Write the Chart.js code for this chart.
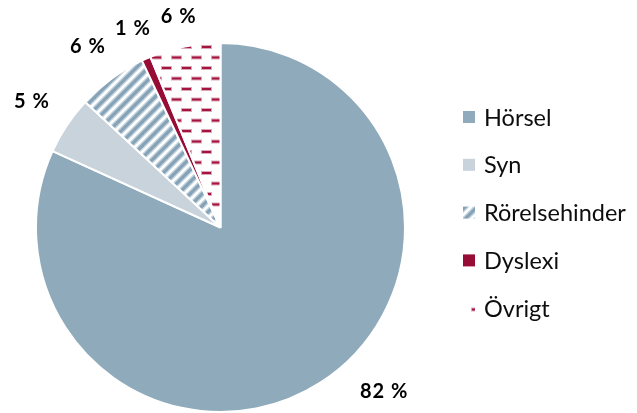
<!DOCTYPE html>
<html>
<head>
<meta charset="utf-8">
<script src="https://cdn.jsdelivr.net/npm/chart.js@4.4.1/dist/chart.umd.min.js"></script>
<style>
html,body{margin:0;padding:0;background:#fff;}
#wrap{position:relative;width:637px;height:413px;}
</style>
</head>
<body>
<div id="wrap"><canvas id="c" width="637" height="413"></canvas></div>
<script>
const categories = ["Hörsel", "Syn", "Rörelsehinder", "Dyslexi", "Övrigt"];
const shares = [81.8, 5.1, 6.1, 0.8, 6.2];
const shareLabels = ["82 %", "5 %", "6 %", "1 %", "6 %"];

function stripePattern() {
  const s = 12;
  const t = document.createElement('canvas');
  t.width = s; t.height = s;
  const g = t.getContext('2d');
  g.fillStyle = '#ffffff';
  g.fillRect(0, 0, s, s);
  g.strokeStyle = 'rgba(150,177,196,0.55)';
  g.lineWidth = 6;
  for (const o of [-s, 0, s]) {
    g.beginPath(); g.moveTo(o - 2, s + 2); g.lineTo(o + s + 2, -2); g.stroke();
  }
  g.strokeStyle = 'rgba(125,156,178,0.9)';
  g.lineWidth = 3.2;
  for (const o of [-s, 0, s]) {
    g.beginPath(); g.moveTo(o - 2, s + 2); g.lineTo(o + s + 2, -2); g.stroke();
  }
  return g.createPattern(t, 'repeat');
}
function dashPattern() {
  const w = 20, h = 21;
  const t = document.createElement('canvas');
  t.width = w; t.height = h;
  const g = t.getContext('2d');
  g.fillStyle = '#ffffff';
  g.fillRect(0, 0, w, h);
  g.fillStyle = 'rgba(175,60,95,0.45)';
  g.fillRect(1, 3, 11, 4);
  g.fillRect(11, 13.5, 11, 4);
  g.fillRect(-9, 13.5, 11, 4);
  g.fillStyle = '#a3153f';
  g.fillRect(2, 4, 9, 2);
  g.fillRect(12, 14.5, 9, 2);
  g.fillRect(-8, 14.5, 9, 2);
  return g.createPattern(t, 'repeat');
}

const fills = ['#8faabb', '#c8d3dc', stripePattern(), '#980d36', dashPattern()];

const labelPlugin = {
  id: 'sliceLabels',
  afterDatasetsDraw(chart, args, opts) {
    const ctx = chart.ctx;
    const meta = chart.getDatasetMeta(0);
    ctx.save();
    ctx.font = 'bold 20px Lato, "Liberation Sans", sans-serif';
    if ('letterSpacing' in ctx) ctx.letterSpacing = '1px';
    ctx.fillStyle = '#000';
    ctx.textAlign = 'center';
    ctx.textBaseline = 'middle';
    meta.data.forEach((arc, i) => {
      const p = arc.getProps(['x', 'y', 'startAngle', 'endAngle', 'outerRadius'], true);
      let mid = (p.startAngle + p.endAngle) / 2;
      if (opts.angleOverride && opts.angleOverride[i] !== undefined) mid = opts.angleOverride[i];
      const d = p.outerRadius + (opts.offsets ? opts.offsets[i] : 38);
      ctx.fillText(shareLabels[i], p.x + Math.cos(mid) * d, p.y + Math.sin(mid) * d);
    });
    ctx.restore();
  }
};

const legendPlugin = {
  id: 'sideLegend',
  afterDraw(chart, args, opts) {
    const ctx = chart.ctx;
    ctx.save();
    ctx.font = '23.5px Lato, "Liberation Sans", sans-serif';
    ctx.textBaseline = 'middle';
    ctx.textAlign = 'left';
    categories.forEach((name, i) => {
      const y = opts.top + i * opts.step;
      ctx.fillStyle = fills[i];
      ctx.fillRect(opts.left, y - 6, 12, 12);
      ctx.fillStyle = '#0d0d0d';
      ctx.fillText(name, opts.left + 21, y + 1);
    });
    ctx.restore();
  }
};

new Chart(document.getElementById('c'), {
  type: 'pie',
  data: {
    labels: categories,
    datasets: [{
      data: shares,
      backgroundColor: fills,
      borderColor: '#ffffff',
      borderWidth: 2
    }]
  },
  options: {
    responsive: false,
    animation: false,
    layout: { padding: { left: 34, right: 230, top: 42, bottom: 0 } },
    plugins: {
      legend: { display: false },
      tooltip: { enabled: false },
      sliceLabels: { offsets: [47, 42, 40, 33, 31], angleOverride: { 0: Math.PI / 4 } },
      sideLegend: { left: 463, top: 117, step: 47.8 }
    }
  },
  plugins: [labelPlugin, legendPlugin]
});
</script>
</body>
</html>
